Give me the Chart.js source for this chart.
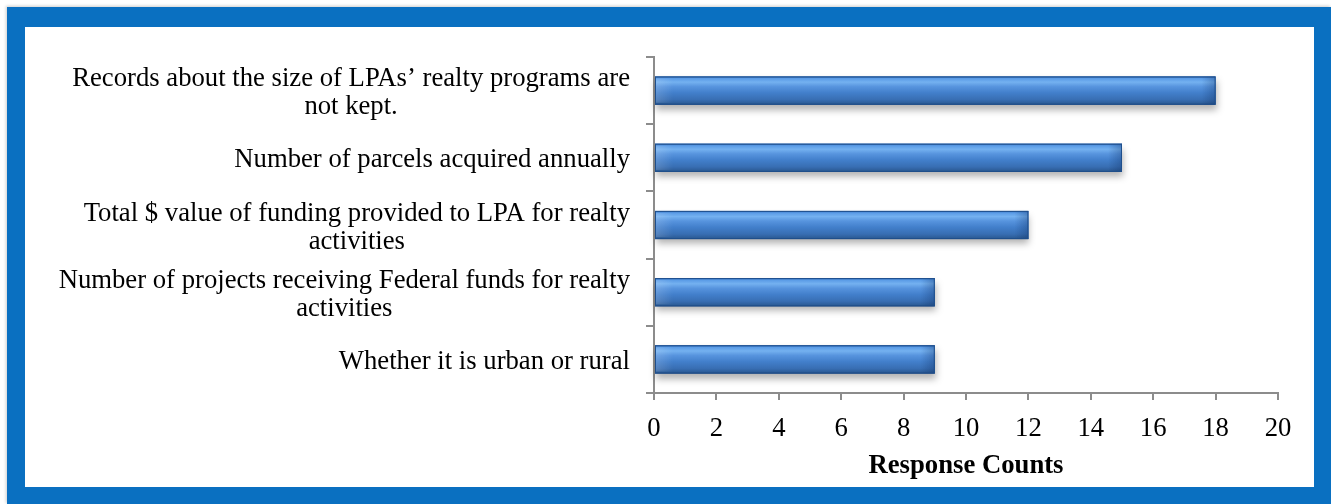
<!DOCTYPE html>
<html>
<head>
<meta charset="utf-8">
<script src="https://cdn.jsdelivr.net/npm/chart.js@4.4.1/dist/chart.umd.min.js"></script>
<style>
    html, body { margin: 0; padding: 0; background: #fff; }
    body { width: 1331px; height: 504px; overflow: hidden; position: relative; }
    #cadre {
        position: absolute; left: 7px; top: 7px; width: 1324px; height: 497px;
        background: #0a70c1;
        box-shadow: -1px -1px 3px rgba(0, 0, 0, 0.2);
    }
    #zone {
        position: absolute; left: 18px; top: 20px; width: 1289px; height: 460px;
        background: #fff;
    }
    canvas { display: block; }
</style>
</head>
<body>
<div id="cadre">
    <div id="zone"><canvas id="graphiqueReponses"></canvas></div>
</div>
<script>
// categories, top to bottom (each entry = lines of the label)
const categories = [
    ["Records about the size of LPAs\u2019 realty programs are", "not kept."],
    ["Number of parcels acquired annually"],
    ["Total $ value of funding provided to LPA for realty", "activities"],
    ["Number of projects receiving Federal funds for realty", "activities"],
    ["Whether it is urban or rural"]
];
const responseCounts = [18, 15, 12, 9, 9];

// x axis ticks: 0, 2, ... 20
const xMin = 0;
const xMax = 20;
const xStep = 2;
const xTitle = "Response Counts";

const police = "'Liberation Serif', 'Times New Roman', serif";
const taille = 26.7;
const gris = "#8c8c8c";

// glossy blue bars with a soft shadow, drawn on top of the library's bars
const barresRelief = {
    id: "barresRelief",
    afterDatasetsDraw(chart) {
        let ctx = chart.ctx;
        let meta = chart.getDatasetMeta(0);
        meta.data.forEach(function (bar) {
            let p = bar.getProps(["x", "y", "base", "height"], true);
            let gauche = Math.min(p.base, p.x);
            let droite = Math.max(p.base, p.x);
            let haut = p.y - p.height / 2;
            let larg = droite - gauche;
            let h = p.height;

            let grad = ctx.createLinearGradient(0, haut, 0, haut + h);
            grad.addColorStop(0.00, "#2e68b4");
            grad.addColorStop(0.07, "#5a9be6");
            grad.addColorStop(0.20, "#74b1f0");
            grad.addColorStop(0.36, "#5794de");
            grad.addColorStop(0.58, "#427fcb");
            grad.addColorStop(0.82, "#386eb3");
            grad.addColorStop(0.95, "#2d5d98");
            grad.addColorStop(1.00, "#22497c");

            ctx.save();
            ctx.shadowColor = "rgba(0, 0, 0, 0.3)";
            ctx.shadowBlur = 7;
            ctx.shadowOffsetX = 1;
            ctx.shadowOffsetY = 5;
            ctx.fillStyle = grad;
            ctx.fillRect(gauche, haut, larg, h);
            ctx.restore();

            // soft bevel on the left end, darker on the right end
            ctx.save();
            let g1 = ctx.createLinearGradient(gauche, 0, gauche + 18, 0);
            g1.addColorStop(0, "rgba(255,255,255,0.16)");
            g1.addColorStop(1, "rgba(255,255,255,0)");
            ctx.fillStyle = g1;
            ctx.fillRect(gauche, haut + 2, 18, h - 4);
            let g2 = ctx.createLinearGradient(droite - 14, 0, droite, 0);
            g2.addColorStop(0, "rgba(10,40,90,0)");
            g2.addColorStop(1, "rgba(10,40,90,0.3)");
            ctx.fillStyle = g2;
            ctx.fillRect(droite - 14, haut, 14, h);
            ctx.strokeStyle = "#1f4f8c";
            ctx.lineWidth = 1;
            ctx.strokeRect(gauche + 0.5, haut + 0.5, larg - 1, h - 1);
            ctx.restore();
        });
    }
};

// category labels: block right-aligned against the axis, lines centred in the block
const etiquettesY = {
    id: "etiquettesY",
    afterDraw(chart) {
        let ctx = chart.ctx;
        let echelle = chart.scales.y;
        let bordDroit = echelle.right - 24;
        let interligne = 28;
        ctx.save();
        ctx.font = taille + "px " + police;
        ctx.fillStyle = "#000";
        ctx.textAlign = "center";
        ctx.textBaseline = "middle";
        categories.forEach(function (lignes, i) {
            let yc = echelle.getPixelForTick(i) + 2.5;
            let largeur = 0;
            lignes.forEach(function (l) {
                largeur = Math.max(largeur, ctx.measureText(l).width);
            });
            let xc = bordDroit - largeur / 2;
            lignes.forEach(function (l, k) {
                ctx.fillText(l, xc, yc + (k - (lignes.length - 1) / 2) * interligne);
            });
        });
        ctx.restore();
    }
};

let ctx = document.getElementById("graphiqueReponses").getContext("2d");
let chart = new Chart(ctx, {
    type: "bar",
    data: {
        labels: categories,
        datasets: [
            {
                data: responseCounts,
                backgroundColor: "#427fcb",
                borderWidth: 0,
                barPercentage: 0.42,
                categoryPercentage: 1
            }
        ]
    },
    options: {
        indexAxis: "y",
        responsive: true,
        maintainAspectRatio: false,
        animation: false,
        layout: { padding: { top: 30, right: 36, left: 0, bottom: 0 } },
        plugins: {
            legend: { display: false },
            tooltip: { enabled: false }
        },
        scales: {
            x: {
                min: xMin,
                max: xMax,
                ticks: {
                    stepSize: xStep,
                    color: "#000",
                    padding: 13,
                    font: { family: police, size: taille }
                },
                grid: { drawOnChartArea: false, tickLength: 7, color: gris, lineWidth: 2 },
                border: { color: gris, width: 2 },
                title: {
                    display: true,
                    text: xTitle,
                    color: "#000",
                    font: { family: police, size: taille, weight: "bold" },
                    padding: { top: 4, bottom: 5 }
                },
                afterFit: function (s) { s.height = 94; }
            },
            y: {
                ticks: {
                    color: "rgba(0,0,0,0)",
                    font: { family: police, size: taille }
                },
                grid: { drawOnChartArea: false, tickLength: 8, color: gris, lineWidth: 2 },
                border: { color: gris, width: 2 },
                afterFit: function (s) { s.width = 629; }
            }
        }
    },
    plugins: [barresRelief, etiquettesY]
});
</script>
</body>
</html>
